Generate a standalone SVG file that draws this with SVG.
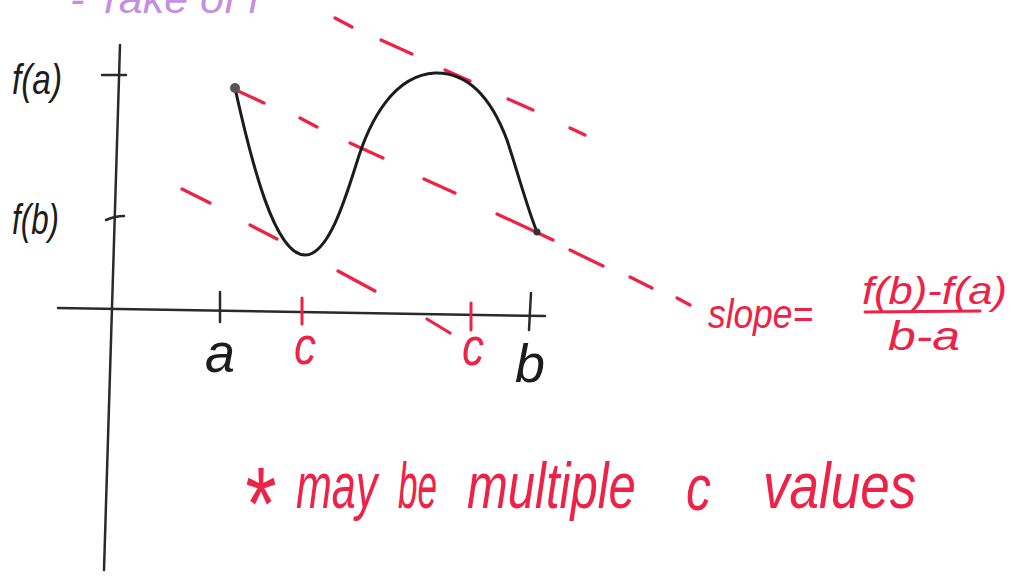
<svg xmlns="http://www.w3.org/2000/svg" width="1015" height="576" viewBox="0 0 1015 576">
<style>
.ink{fill:none;stroke:#1c1c1c;stroke-width:3;stroke-linecap:round;stroke-linejoin:round}
.axis{fill:none;stroke:#2a2a2a;stroke-width:2.5;stroke-linecap:round}
.red{fill:none;stroke:#ee2246;stroke-width:3;stroke-linecap:round}
.dash{fill:none;stroke:#ee2246;stroke-width:3.2;stroke-linecap:round}
.hb{font-family:"Liberation Sans",Arial,sans-serif;font-style:italic;font-weight:normal}
.blk{fill:#1c1c1c}
.rt{fill:#ee2246}
.nt{font-size:50px}
</style>
<rect width="1015" height="576" fill="#ffffff"/>
<text class="hb" x="70" y="13" font-size="40" fill="#b06ad8" opacity="0.75" textLength="190" lengthAdjust="spacingAndGlyphs">- Take of f</text>
<g id="axes">
<line class="axis" x1="120" y1="45" x2="104" y2="570"/>
<line class="axis" x1="58" y1="308" x2="545" y2="316"/>
<line class="axis" x1="102" y1="75" x2="126" y2="75"/>
<path class="axis" d="M106,220 Q115,216 124,216"/>
<line class="axis" x1="220" y1="292" x2="220" y2="322"/>
<line class="axis" x1="531" y1="293" x2="529" y2="330"/>
</g>
<g id="axis-labels">
<text class="hb blk" x="12" y="94" font-size="42" textLength="50" lengthAdjust="spacingAndGlyphs">f(a)</text>
<text class="hb blk" x="12" y="234" font-size="42" textLength="47" lengthAdjust="spacingAndGlyphs">f(b)</text>
<text class="hb blk" x="205" y="372" font-size="56" textLength="30" lengthAdjust="spacingAndGlyphs">a</text>
<text class="hb blk" x="515" y="382" font-size="54" textLength="30" lengthAdjust="spacingAndGlyphs">b</text>
</g>
<g id="c-ticks">
<line class="red" x1="302" y1="298" x2="302" y2="324"/>
<line class="red" x1="471" y1="303" x2="471" y2="330"/>
<text class="hb rt" x="294" y="364" font-size="54" textLength="22" lengthAdjust="spacingAndGlyphs">c</text>
<text class="hb rt" x="462" y="365" font-size="54" textLength="22" lengthAdjust="spacingAndGlyphs">c</text>
</g>
<g id="connectors">
<path class="dash" d="M335,18 L352,27 M381,40 L412,54 M445,70 L470,81 M508,99 L533,110 M570,128 L585,135"/>
<path class="dash" d="M238,91 L264,103 M300,118 L317,127 M350,143 L383,158 M424,179 L455,193 M497,214 L553,240 M570,250 L603,266 M630,277 L652,288 M677,298 L690,305"/>
<path class="dash" d="M182,189 L210,203 M250,225 L277,239 M338,271 L375,291 M427,319 L450,333"/>
</g>
<g id="curve">
<path class="ink" d="M235,88 C252,165 275,255 305,255 C328,255 345,200 356,165 C370,118 395,75 435,73 C470,72 492,100 507,140 C520,180 528,210 537,232"/>
<circle cx="235" cy="88" r="5" fill="#555"/>
<circle cx="537" cy="232" r="3.5" fill="#333"/>
</g>
<g id="slope-label">
<text class="hb rt" x="708" y="328" font-size="40" textLength="105" lengthAdjust="spacingAndGlyphs">slope=</text>
<text class="hb rt" x="862" y="304" font-size="38" textLength="145" lengthAdjust="spacingAndGlyphs">f(b)-f(a)</text>
<line class="red" x1="865" y1="312" x2="980" y2="311"/>
<text class="hb rt" x="888" y="350" font-size="40" textLength="72" lengthAdjust="spacingAndGlyphs">b-a</text>
</g>
<g id="note">
<text class="hb rt" font-size="80" transform="translate(242,540) scale(1,1.3)">*</text>
<text class="hb rt nt" transform="translate(296,508) scale(0.86,1.3)">may</text>
<text class="hb rt nt" transform="translate(398,508) scale(0.7,1.3)">be</text>
<text class="hb rt nt" transform="translate(467,508) scale(0.98,1.3)">multiple</text>
<text class="hb rt nt" transform="translate(686,510) scale(1,1.3)">c</text>
<text class="hb rt nt" transform="translate(763,508) scale(1.06,1.3)">values</text>
</g>
</svg>
